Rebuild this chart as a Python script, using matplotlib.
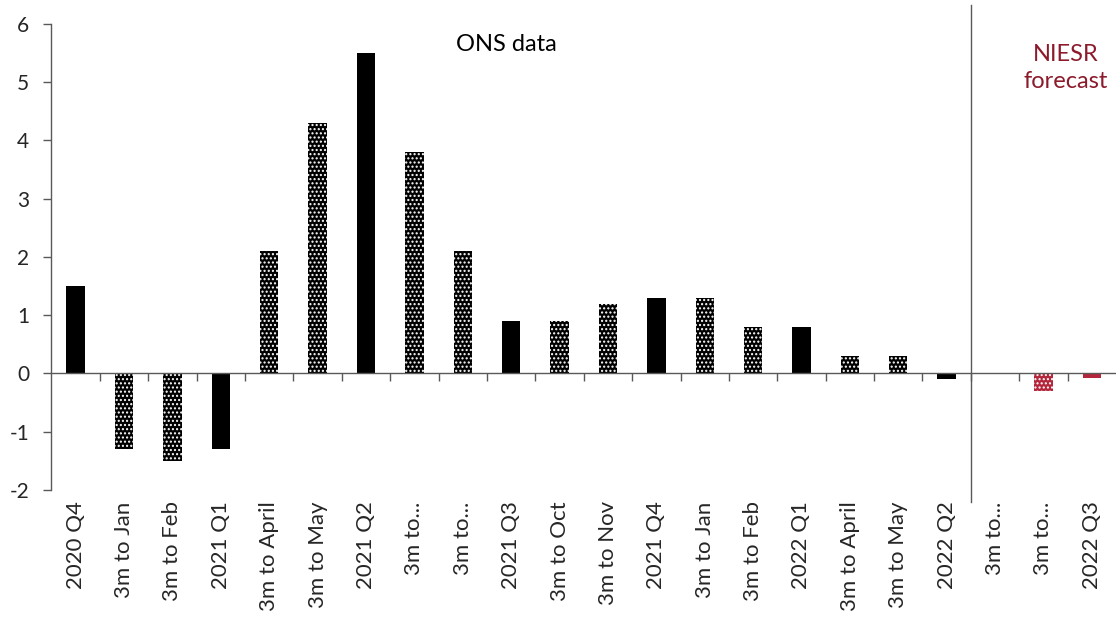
import numpy as np
import matplotlib
matplotlib.use("Agg")
import matplotlib.pyplot as plt

#-----------------------------------------------------------------------
# Data : growth figures, ONS outturns and NIESR forecast
#-----------------------------------------------------------------------
labels = ["2020 Q4", "3m to Jan", "3m to Feb", "2021 Q1", "3m to April",
          "3m to May", "2021 Q2", "3m to...", "3m to...", "2021 Q3",
          "3m to Oct", "3m to Nov", "2021 Q4", "3m to Jan", "3m to Feb",
          "2022 Q1", "3m to April", "3m to May", "2022 Q2", "3m to...",
          "3m to...", "2022 Q3"]
values = [1.5, -1.3, -1.5, -1.3, 2.1, 4.3, 5.5, 3.8, 2.1, 0.9, 0.9, 1.2,
          1.3, 1.3, 0.8, 0.8, 0.3, 0.3, -0.1, 0.0, -0.3, -0.08]
is_rolling = [False, True, True, False, True, True, False, True, True, False,
              True, True, False, True, True, False, True, True, False, True,
              True, False]
is_forecast = [False] * 19 + [True] * 3

y_ticks = [-2, -1, 0, 1, 2, 3, 4, 5, 6]

BLACK = "#000000"
RED = "#b3263b"
RED_TEXT = "#8c1a2b"
GREY = "#595959"


def main():
    plt.rcParams["font.family"] = ["Lato", "DejaVu Sans"]
    plt.rcParams["hatch.linewidth"] = 1.0

    fig = plt.figure(figsize=(11.16, 6.2), dpi=100)
    ax = fig.add_axes([0.0461, 0.2097, 0.9539, 0.7516])

    #---------------------------------------------------------------
    # Bars
    #---------------------------------------------------------------
    x = np.arange(len(labels))
    for i in range(len(labels)):
        colour = RED if is_forecast[i] else BLACK
        if is_rolling[i]:
            ax.bar(x[i], values[i], width=0.38, facecolor=colour,
                   edgecolor="white", linewidth=0, hatch="....", zorder=2)
        else:
            ax.bar(x[i], values[i], width=0.38, color=colour,
                   linewidth=0, zorder=2)

    #---------------------------------------------------------------
    # Axes styling
    #---------------------------------------------------------------
    ax.set_xlim(-0.5, len(labels) - 0.5)
    ax.set_ylim(-2, 6)
    ax.set_yticks(y_ticks)
    ax.set_yticklabels([str(t) for t in y_ticks])

    for side in ["top", "right"]:
        ax.spines[side].set_visible(False)
    ax.spines["left"].set_color(GREY)
    ax.spines["left"].set_linewidth(1.0)
    ax.spines["bottom"].set_position(("data", 0))
    ax.spines["bottom"].set_color(GREY)
    ax.spines["bottom"].set_linewidth(1.0)

    ax.tick_params(axis="y", direction="out", length=6, width=1.0,
                   color=GREY, labelsize=15, labelcolor="#262626", pad=10)

    ax.set_xticks(x)
    ax.set_xticklabels(labels, rotation=90)
    ax.tick_params(axis="x", which="major", length=0, labelsize=16,
                   labelcolor="#262626", pad=92)
    ax.set_xticks(np.arange(0.5, len(labels) - 0.5, 1.0), minor=True)
    ax.tick_params(axis="x", which="minor", direction="out", length=6,
                   width=1.0, color=GREY)

    #---------------------------------------------------------------
    # Divider and annotations
    #---------------------------------------------------------------
    ax.plot([18.5, 18.5], [-2.2, 6.33], color=GREY, linewidth=1.0,
            clip_on=False, zorder=3)
    ax.text(8.9, 5.65, "ONS data", fontsize=17, color=BLACK,
            ha="center", va="center")
    ax.text(20.47, 5.25, "NIESR\nforecast", fontsize=17, color=RED_TEXT,
            ha="center", va="center", linespacing=1.35)

    fig.savefig("out.png", dpi=100)


if __name__ == "__main__":
    main()
